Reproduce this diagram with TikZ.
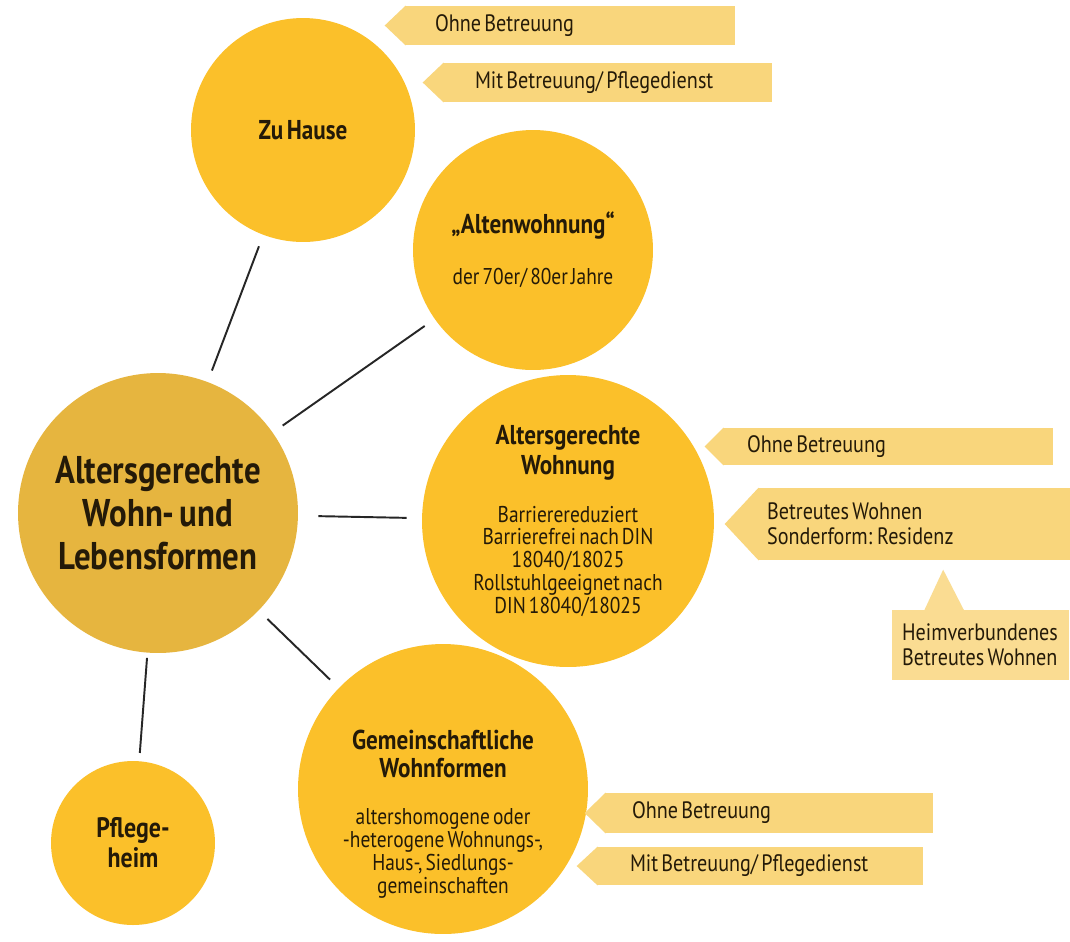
\documentclass[tikz,border=0pt]{standalone}
\usepackage{fontspec}
\setmainfont[FakeStretch=0.85, WordSpace=0.6]{PT Sans}
\usepackage{xcolor}
\definecolor{bubblec}{HTML}{FBC02A}
\definecolor{hubc}{HTML}{E6B53F}
\definecolor{bannerc}{HTML}{F9D67C}
\definecolor{boxc}{HTML}{FADC92}
\definecolor{inkc}{HTML}{241A08}
\newcommand{\titlefont}{\bfseries\fontsize{15.5}{16}\selectfont}
\newcommand{\bodyfont}{\fontsize{13}{13}\selectfont}
\newcommand{\bannerfont}{\fontsize{13.5}{14}\selectfont}

\begin{document}
\begin{tikzpicture}[x=0.02cm, y=-0.02cm,
  bubble/.style={circle, fill=bubblec, text=inkc, align=center, inner sep=0pt, minimum size=#1, font=\bodyfont},
  banner/.style n args={3}{fill=bannerc, text=inkc, inner xsep=0pt, inner ysep=0pt,
    minimum width=#1, text width=#2, minimum height=#3, align=flush left, font=\bannerfont},
  infobox/.style={fill=boxc, text=inkc, inner ysep=0pt, minimum width=3.54cm, minimum height=1.4cm,
    align=left, font=\bannerfont},
  link/.style={line width=1.1pt, black!85, shorten <=0.24cm, shorten >=0.24cm}]

\fill[white] (0,0) rectangle (1070,941);
\useasboundingbox (0,0) rectangle (1070,941);

\node[bubble=5.6cm, fill=hubc, font=\bfseries\fontsize{22}{24.5}\selectfont] (hub) at (158,513)
  {Altersgerechte\\Wohn- und\\Lebensformen};
\node[bubble=4.48cm, font=\titlefont] (zuhause) at (303,130) {Zu Hause};
\node[bubble=4.8cm] (alten) at (533,250)
  {{\titlefont „Altenwohnung“}\\[16pt]der 70er/ 80er Jahre};
\node[bubble=5.84cm] (wohnung) at (568,521)
  {{\titlefont Altersgerechte}\\[2pt]{\titlefont Wohnung}\\[14pt]Barrierereduziert\\Barrierefrei nach DIN\\18040/18025\\Rollstuhlgeeignet nach\\DIN 18040/18025};
\node[bubble=5.8cm, label={[align=center, text=inkc, font=\bodyfont, yshift=-0.5cm]center:{{\titlefont Gemeinschaftliche}\\[3pt]{\titlefont Wohnformen}\\[14pt]altershomogene oder\\-heterogene Wohnungs-,\\Haus-, Siedlungs-\\gemeinschaften}}] (gemein) at (443,789) {};
\node[bubble=3.28cm, font=\bfseries\fontsize{16}{17}\selectfont] (pflege) at (133,843) {Pflege-\\heim};

\node[banner={6.6cm}{5.4cm}{0.78cm}] (zh1) at (570,25.5) {Ohne Betreuung};
\node[banner={6.58cm}{5.3cm}{0.78cm}] (zh2) at (607.5,82.5) {Mit Betreuung/ Pflegedienst};
\node[banner={6.6cm}{5.64cm}{0.74cm}] (aw1) at (888,446.5) {Ohne Betreuung};
\node[banner={6.24cm}{5.88cm}{1.44cm}] (aw2) at (914,524) {Betreutes Wohnen\\Sonderform: Residenz};
\node[infobox] (aw3) at (980,645) {Heimverbundenes\\Betreutes Wohnen};
\node[banner={6.56cm}{5.48cm}{0.8cm}] (gw1) at (769,813) {Ohne Betreuung};
\node[banner={6.52cm}{5.2cm}{0.76cm}] (gw2) at (760,866) {Mit Betreuung/ Pflegedienst};

\foreach \n/\d in {zh1/0.4, zh2/0.4, aw1/0.36, aw2/0.66, gw1/0.4, gw2/0.4}
  \fill[bannerc] ([xshift=0.5pt]\n.north west) -- ([xshift=-\d cm]\n.west) -- ([xshift=0.5pt]\n.south west) -- cycle;
\fill[boxc] ([xshift=0.66cm, yshift=-0.5pt]aw3.north west) -- ([xshift=1.04cm, yshift=0.8cm]aw3.north west)
  -- ([xshift=1.46cm, yshift=-0.5pt]aw3.north west) -- cycle;

\draw[link] (hub) -- (zuhause);
\draw[link] (hub) -- (alten);
\draw[link, shorten <=0.4cm, shorten >=0.3cm] (hub) -- (wohnung);
\draw[link] (hub) -- (gemein);
\draw[link, shorten <=0.1cm, shorten >=0.16cm] (hub) -- (pflege);
\end{tikzpicture}
\end{document}
